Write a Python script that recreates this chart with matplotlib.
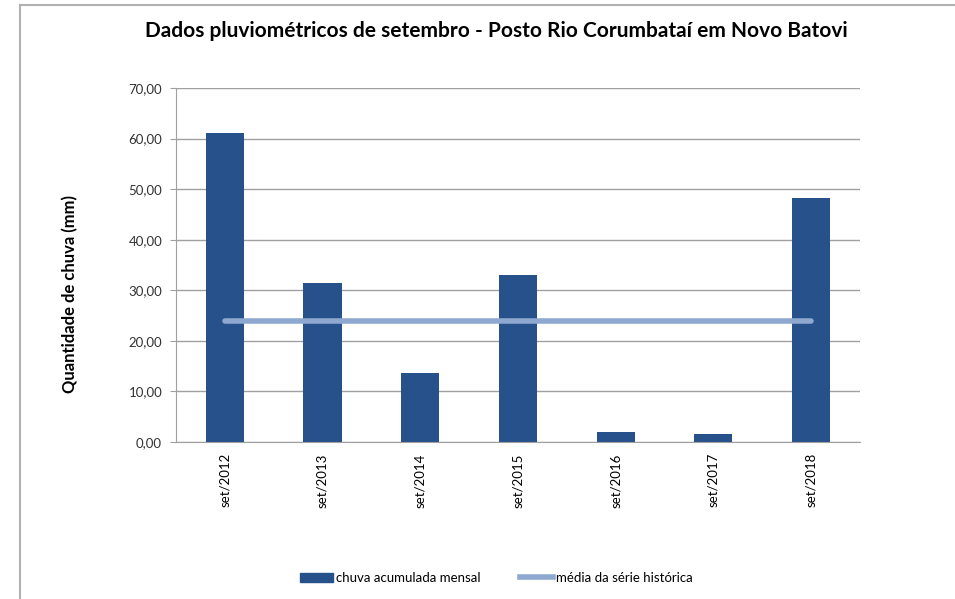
import matplotlib.pyplot as plt
from matplotlib.lines import Line2D
from matplotlib.patches import Patch
import numpy as np

plt.rcParams['font.family'] = ['Lato', 'DejaVu Sans']

categories = ['set/2012', 'set/2013', 'set/2014', 'set/2015', 'set/2016', 'set/2017', 'set/2018']
chuva = [61.1, 31.5, 13.7, 33.0, 2.0, 1.6, 48.2]
media = [23.9] * 7
y_ticks = [0, 10, 20, 30, 40, 50, 60, 70]

bar_color = '#27518A'
line_color = '#8EA8D0'
grid_color = '#A0A0A0'

fig = plt.figure(figsize=(9.55, 5.99), dpi=100)
ax = fig.add_axes([0.1843, 0.262, 0.716, 0.591])

x = np.arange(len(categories))
ax.bar(x, chuva, width=0.39, color=bar_color, zorder=2)
ax.plot(x, media, color=line_color, lw=4, solid_capstyle='round', zorder=3)

ax.set_xlim(-0.5, len(categories) - 0.5)
ax.set_ylim(0, 70)
ax.set_yticks(y_ticks)
ax.set_yticklabels(['%d,00' % v for v in y_ticks], fontsize=9.5, color='#333333')
ax.set_xticks(x)
ax.set_xticklabels(categories, rotation=90, fontsize=9.5)
ax.tick_params(axis='x', length=0, pad=8)
ax.tick_params(axis='y', length=4, color=grid_color, pad=6)
ax.grid(axis='y', color=grid_color, lw=1, zorder=0)
for s in ['top', 'right']:
    ax.spines[s].set_visible(False)
ax.spines['left'].set_color(grid_color)
ax.spines['bottom'].set_color(grid_color)

fig.text(0.073, 0.509, 'Quantidade de chuva (mm)', rotation=90, ha='center', va='center',
         fontsize=12, fontweight='bold')
fig.text(0.52, 0.948, 'Dados pluviométricos de setembro - Posto Rio Corumbataí em Novo Batovi',
         ha='center', va='center', fontsize=15, fontweight='bold')

handles = [Patch(color=bar_color), Line2D([], [], color=line_color, lw=4)]
fig.legend(handles, ['chuva acumulada mensal', 'média da série histórica'],
           loc='center', bbox_to_anchor=(0.52, 0.035), ncol=2, frameon=False,
           fontsize=9.5, handlelength=2.5, handletextpad=0.2, columnspacing=3)

# chart frame
fig.add_artist(Line2D([0.021, 0.021], [0, 0.992], color='#B0B0B0', lw=1.5, transform=fig.transFigure))
fig.add_artist(Line2D([0.021, 1], [0.992, 0.992], color='#B0B0B0', lw=1.5, transform=fig.transFigure))

fig.savefig('out.png', dpi=100)
